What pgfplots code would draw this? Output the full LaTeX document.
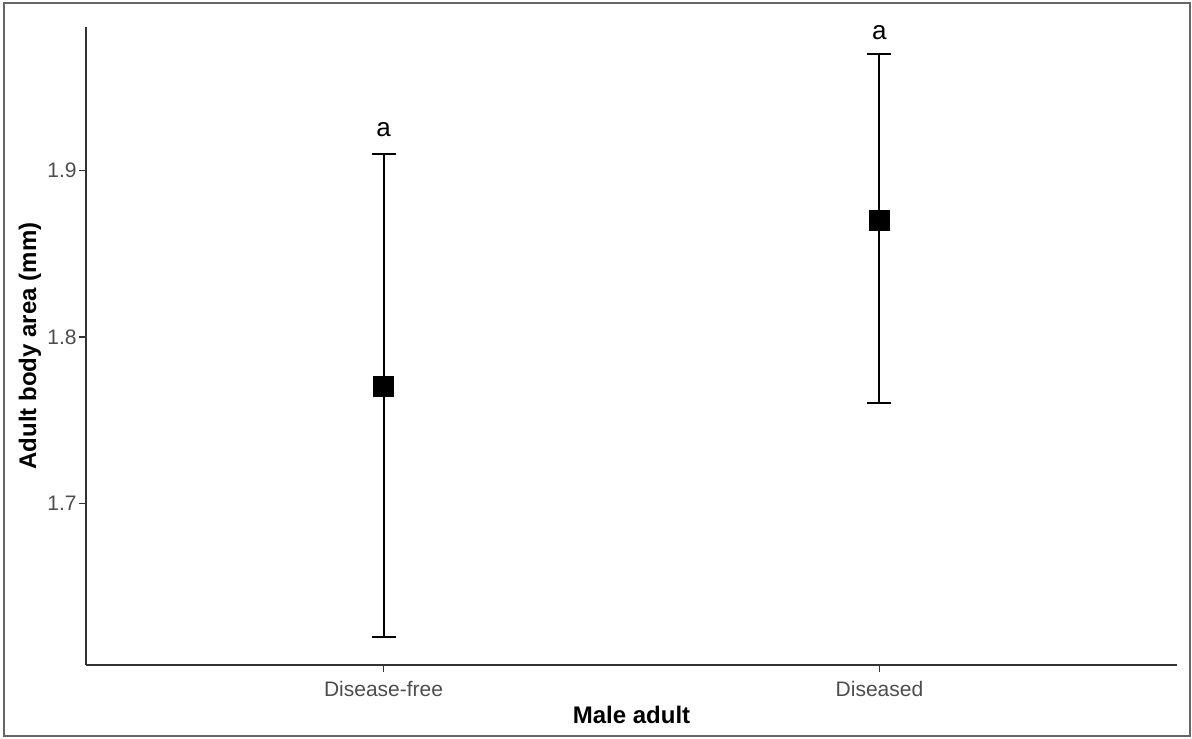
\documentclass[border=0pt]{standalone}
\usepackage{pgfplots}
\pgfplotsset{compat=1.18}
\usepackage{fontspec}
\setmainfont{Liberation Sans}
\definecolor{axisgray}{HTML}{333333}
\definecolor{ticklab}{HTML}{4D4D4D}
\definecolor{framegray}{HTML}{666666}

\begin{document}
\begin{tikzpicture}[x=1pt,y=1pt]
% page size and outer frame
\useasboundingbox (-43,-36.5) rectangle (553,332.5);
\draw[framegray, line width=1pt] (-41,-35.5) rectangle (552,331);
\begin{axis}[
  at={(0,0)}, anchor=south west,
  scale only axis,
  width=545.5pt, height=319pt,
  xmin=0.4, xmax=2.6,
  ymin=1.603, ymax=1.986,
  separate axis lines,
  axis x line*=bottom, axis y line*=left,
  axis line style={-, axisgray, line width=1pt},
  xtick={1,2},
  xticklabels={Disease-free, Diseased},
  ytick={1.7,1.8,1.9},
  yticklabel style={/pgf/number format/fixed, /pgf/number format/precision=1, /pgf/number format/fixed zerofill},
  /pgf/number format/assume math mode=true,
  tick align=outside,
  major tick length=3.5pt,
  tick style={axisgray, line width=0.7pt},
  ticklabel style={font=\fontsize{10.5}{12}\selectfont, text=ticklab},
  xticklabel style={anchor=north, yshift=-1pt},
  yticklabel style={anchor=east, inner sep=1pt, xshift=0pt},
  xlabel={\textbf{Male adult}},
  ylabel={\textbf{Adult body area (mm)}},
  label style={font=\fontsize{12}{14}\selectfont},
  x label style={at={(axis description cs:0.5,-0.0785)}, anchor=center},
  y label style={at={(axis description cs:-0.0513,0.5)}, anchor=center},
  clip=false,
]
\addplot[
  only marks, mark=square*, mark size=5pt, black,
  error bars/.cd,
    y dir=both, y explicit,
    error bar style={black, line width=1pt},
    error mark options={black, line width=1pt, mark size=6pt, rotate=90},
] coordinates {
  (1,1.77) += (0,0.14) -= (0,0.15)
  (2,1.87) += (0,0.10) -= (0,0.11)
};
\node[anchor=base, font=\fontsize{13}{15}\selectfont] at (axis cs:1,1.9205) {a};
\node[anchor=base, font=\fontsize{13}{15}\selectfont] at (axis cs:2,1.9785) {a};
\end{axis}
\end{tikzpicture}
\end{document}
